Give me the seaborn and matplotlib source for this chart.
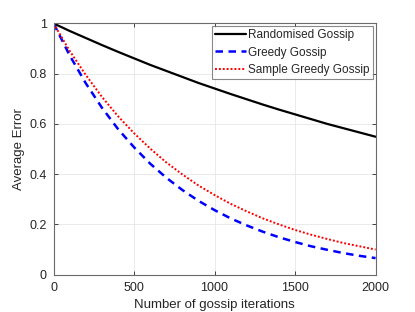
import matplotlib
matplotlib.use("Agg")
import matplotlib.pyplot as plt
import seaborn as sns
import pandas as pd

iterations = [0, 100, 200, 300, 400, 500, 600, 700, 800, 900, 1000,
              1100, 1200, 1300, 1400, 1500, 1600, 1700, 1800, 1900, 2000]
randomised = [1.000, 0.970, 0.942, 0.914, 0.887, 0.861, 0.835, 0.811, 0.787, 0.763, 0.741,
              0.719, 0.698, 0.677, 0.657, 0.638, 0.619, 0.600, 0.583, 0.566, 0.549]
greedy = [1.000, 0.873, 0.762, 0.665, 0.580, 0.507, 0.442, 0.386, 0.337, 0.294, 0.257,
          0.224, 0.196, 0.171, 0.149, 0.130, 0.113, 0.099, 0.086, 0.075, 0.066]
sample_greedy = [1.000, 0.891, 0.795, 0.708, 0.631, 0.563, 0.502, 0.447, 0.399, 0.355, 0.317,
                 0.282, 0.252, 0.224, 0.200, 0.178, 0.159, 0.142, 0.126, 0.113, 0.100]
series_names = ["Randomised Gossip", "Greedy Gossip", "Sample Greedy Gossip"]
x_ticks = [0, 500, 1000, 1500, 2000]
y_ticks = [0, 0.2, 0.4, 0.6, 0.8, 1.0]
y_tick_labels = ["0", "0.2", "0.4", "0.6", "0.8", "1"]

sns.set_style("white")
plt.rcParams["font.family"] = ["Liberation Sans", "DejaVu Sans"]

txt = "#262626"
fig = plt.figure(figsize=(4.15, 3.12), dpi=100)
ax = fig.add_axes([0.129, 0.1196, 0.776, 0.8054])

styles = [
    dict(color="black", linestyle="-", linewidth=1.6),
    dict(color="blue", linestyle=(0, (3.0, 2.2)), linewidth=1.8),
    dict(color="red", linestyle=(0, (1, 1)), linewidth=1.4),
]
for name, vals, st in zip(series_names, [randomised, greedy, sample_greedy], styles):
    df = pd.DataFrame({"x": iterations, "y": vals})
    sns.lineplot(data=df, x="x", y="y", ax=ax, label=name, **st)

ax.set_xlim(0, 2000)
ax.set_ylim(0, 1)
ax.set_xticks(x_ticks)
ax.set_yticks(y_ticks)
ax.set_yticklabels(y_tick_labels)
ax.tick_params(direction="in", length=3, width=0.6, colors=txt, labelsize=9,
               top=True, right=True, bottom=True, left=True, pad=5)
for lab in ax.get_xticklabels() + ax.get_yticklabels():
    lab.set_color(txt)
ax.grid(True, color="#e6e6e6", linewidth=0.6)
for sp in ax.spines.values():
    sp.set_color("#6a6a6a")
    sp.set_linewidth(0.8)
    sp.set_visible(True)

ax.set_xlabel("Number of gossip iterations", fontsize=9.5, color=txt, labelpad=4)
ax.set_ylabel("Average Error", fontsize=9.5, color=txt, labelpad=3)

leg = ax.legend(loc="upper right", fontsize=8.5, frameon=True, fancybox=False,
                borderpad=0.3, handlelength=2.6, handletextpad=0.2, labelspacing=0.45,
                borderaxespad=0.2)
leg.get_frame().set_edgecolor("#6a6a6a")
leg.get_frame().set_linewidth(0.8)
for t in leg.get_texts():
    t.set_color(txt)

fig.savefig("out.png", dpi=100)
